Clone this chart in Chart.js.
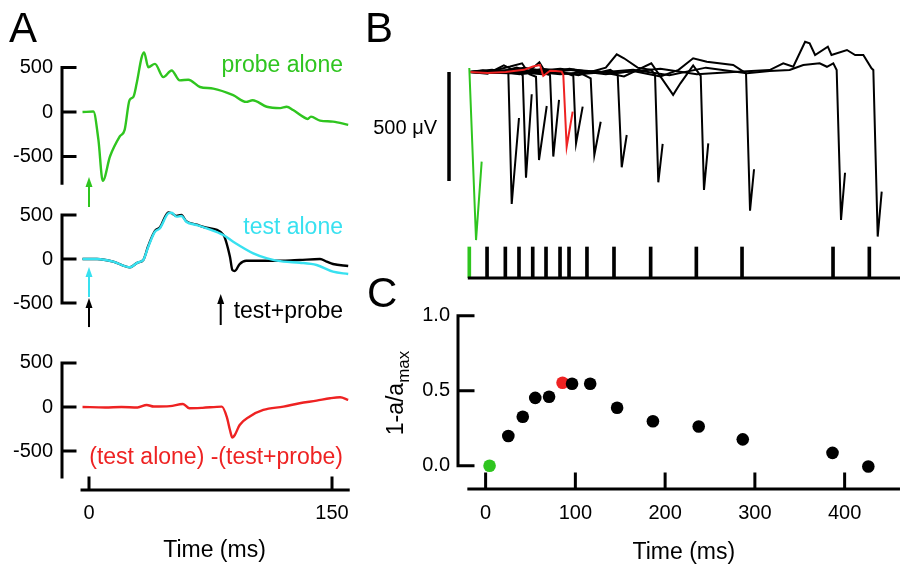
<!DOCTYPE html>
<html>
<head>
<meta charset="utf-8">
<script src="https://cdn.jsdelivr.net/npm/chart.js@4.4.0/dist/chart.umd.min.js"></script>
<style>
html, body { margin: 0; padding: 0; width: 900px; height: 568px; overflow: hidden; background: #fff; }
body { position: relative; font-family: 'Liberation Sans', Arial, sans-serif; color: #000; }
canvas { position: absolute; }
.lbl { position: absolute; line-height: 1; white-space: nowrap; }
.big { font-size: 42px; }
.note { font-size: 23px; }
</style>
</head>
<body>
<canvas id="panelA" width="367" height="528" style="left:0;top:40px"></canvas>
<canvas id="panelB" width="460" height="252" style="left:440px;top:30px"></canvas>
<canvas id="panelC" width="516" height="278" style="left:400px;top:290px"></canvas>

<div class="lbl big" style="left:9px;top:7px">A</div>
<div class="lbl big" style="left:365px;top:7px">B</div>
<div class="lbl big" style="left:367px;top:272px">C</div>
<div class="lbl note" style="right:557px;top:53px;color:#2fc51f">probe alone</div>
<div class="lbl note" style="right:557px;top:215px;color:#38e1f0">test alone</div>
<div class="lbl note" style="right:557px;top:299px">test+probe</div>
<div class="lbl note" style="right:557px;top:445px;color:#ee2222">(test alone) -(test+probe)</div>
<div class="lbl" style="right:463px;top:117px;font-size:20px">500 μV</div>
<div class="lbl note" style="left:335px;top:378px;width:120px;height:30px;line-height:30px;text-align:center;transform:rotate(-90deg)">1-a/a<sub style="font-size:17px">max</sub></div>

<script>
// ---- panel A: field responses (ms, µV) ----
const probeT = [-4, 2.7, 5.8, 8.5, 13, 19, 22, 25, 27.4, 29.4, 32.5, 34, 36.6, 40.7, 45.9, 51, 56, 61.3, 68.5, 76.7, 89, 97, 101, 109.7, 118, 122, 126, 132, 135, 137, 142.6, 150.6, 160];
const probeV = [0, 5, -311, -774, -497, -274, -200, 133, 170, 319, 614, 670, 503, 541, 392, 467, 356, 363, 281, 263, 189, 114, 133, 59, 44, 59, 22, -52, -78, -52, -96, -108, -144];

const testT = [-4, 5, 15, 25.3, 30, 33.5, 36.6, 40.7, 43.8, 49, 51, 54, 57, 60, 66.5, 72.6, 82.9, 89, 101.4, 110, 120, 130, 140.5, 150.6, 160];
const testV = [0, 0, -30, -94, -40, -11, 140, 310, 349, 519, 526, 481, 489, 424, 386, 349, 273, 197, 65, 8, -30, -42, -68, -144, -170];

const pairT = [-4, 5, 15, 25.3, 30, 33.5, 36.6, 40.7, 43.8, 49, 51, 54, 57, 60, 66.5, 72.6, 82.9, 87, 88.5, 90, 93, 97, 110, 120, 130, 142.6, 146.7, 150.6, 160];
const pairV = [0, 0, -30, -94, -40, -11, 150, 320, 360, 530, 520, 490, 500, 430, 390, 355, 275, 26, -125, -136, -57, -19, -19, -19, -11, 0, -30, -57, -80];

const diffT = [-4, 10, 20, 30, 35.6, 40, 50, 58, 62, 70, 82, 85, 87, 88.5, 90, 93, 99, 107.6, 120, 130, 140.5, 148.8, 155, 160];
const diffV = [0, -5, 0, -5, 23, 5, 10, 34, -15, -10, 4, -110, -261, -348, -318, -205, -110, -34, 4, 42, 72, 99, 110, 80];

const aTicksX = [0, 150];
const aTicksY = [500, 0, -500];

// ---- panel B: single sweeps (ms from probe, µV) ----
const stimTimes = [0, 19.5, 39.6, 54.6, 69.7, 84.3, 99.7, 109.6, 129.3, 159, 199.3, 249.5, 299.7, 399.7, 439.6];

const sweepGreenT = [0, 7.4, 13.6];
const sweepGreenV = [18, -771, -411];
const sweepRedT = [0, 20, 40, 60, 70, 77.7, 81.3, 88.7, 95, 101.5, 103.3, 107, 113.6];
const sweepRedV = [0, -5, 0, 10, 25, 32, -18, 6, 5, 2, -14, -343, -182];

const sweepsT = [
  [0, 15, 30, 42.9, 46.6, 54.6],
  [0, 20, 38, 50, 58.7, 62.3, 68.6],
  [0, 25, 45, 58, 66, 73.3, 76.6, 85.1],
  [0, 30, 52, 66, 77, 85, 88.7, 92.3, 98.6],
  [0, 25, 55, 80, 100, 114.3, 117.3, 124.6],
  [0, 30, 60, 90, 115, 133.4, 137.4, 144.4],
  [0, 40, 80, 110, 140, 155, 163.1, 167.5, 173],
  [0, 40, 85, 120, 150, 162, 170, 185, 200, 204.1, 207.7, 212.5],
  [0, 50, 100, 140, 170, 200, 224, 232, 246, 254.3, 257.9, 262.6],
  [0, 50, 100, 150, 180, 210, 230, 246, 261, 290, 304.1, 308.5, 312.9],
  [0, 60, 120, 180, 220, 260, 305, 330, 352, 367, 385, 393, 400, 403.7, 408.5, 412.9],
  [0, 60, 110, 160, 210, 250, 290, 330, 345, 356, 369, 374, 380, 394, 398, 415, 424, 433, 442, 444, 448.8, 453.2]
];
const sweepsV = [
  [0, 8, -5, -5, -605, -211],
  [0, -8, 30, 5, -14, -485, -102],
  [0, 5, 25, 40, -10, -22, -404, -156],
  [0, -5, 20, 5, 45, -10, -14, -388, -128],
  [0, 10, -10, 15, 5, -18, -327, -159],
  [0, -5, 20, 0, 10, -29, -381, -228],
  [0, 5, -10, 15, -5, 10, -14, -437, -289],
  [0, -5, 10, -15, 20, 81, 63, 20, 10, -14, -506, -330],
  [0, 10, -10, 5, -20, 40, -105, -52, 30, -18, -541, -327],
  [0, -5, 15, -10, 5, -20, 10, 63, 47, 32, -6, -636, -446],
  [0, 5, -10, 10, -15, 20, -6, 5, 9, 32, 40, 24, 40, 9, -679, -462],
  [0, -8, 12, -5, 15, -10, 0, 9, 40, 24, 139, 132, 78, 116, 78, 101, 78, 78, 17, 9, -755, -549]
];
const scaleBarUV = 500;

// ---- panel C: 1 - a/amax vs interval ----
const cTimes = [4.4, 25.3, 41.4, 55.3, 70.7, 85.7, 96.3, 116.5, 146.5, 186.4, 237.4, 286.5, 386.5, 426.4];
const cValues = [0.0, 0.198, 0.327, 0.452, 0.46, 0.553, 0.546, 0.546, 0.387, 0.297, 0.262, 0.176, 0.086, -0.005];
const cTicksX = [0, 100, 200, 300, 400];
const cTicksY = [0, 0.5, 1.0];

const GREEN = '#2fc51f', CYAN = '#38e1f0', RED = '#ee2222', BLACK = '#000';

Chart.defaults.font.family = "'Liberation Sans', Arial, sans-serif";
Chart.defaults.color = '#000';

const zip = (t, v) => t.map((x, i) => ({x: x, y: v[i]}));
const setTicks = vals => s => { s.ticks = vals.map(v => ({value: v})); };

// axis lines with inward ticks, scale bars and arrows (config kept in a closure)
function inkPlugin(cfg) {
  return {
    id: 'ink',
    afterDatasetsDraw(chart) {
      const ctx = chart.ctx, area = chart.chartArea;
      ctx.save();
      (cfg.axes || []).forEach(a => {
        const s = chart.scales[a.scale];
        ctx.strokeStyle = BLACK;
        ctx.lineWidth = a.width || 3;
        ctx.lineCap = a.cap || 'square';
        ctx.beginPath();
        if (s.isHorizontal()) {
          const y = area.bottom;
          ctx.moveTo(s.getPixelForValue(a.from), y);
          ctx.lineTo(s.getPixelForValue(a.to), y);
          (a.ticks || []).forEach(v => {
            const x = s.getPixelForValue(v);
            ctx.moveTo(x, y); ctx.lineTo(x, y - a.len);
          });
        } else {
          const x = (typeof a.at === 'number') ? chart.scales.x.getPixelForValue(a.at) : area.left;
          ctx.moveTo(x, s.getPixelForValue(a.from));
          ctx.lineTo(x, s.getPixelForValue(a.to));
          (a.ticks || []).forEach(v => {
            const y = s.getPixelForValue(v);
            ctx.moveTo(x, y); ctx.lineTo(x + a.len, y);
          });
        }
        ctx.stroke();
      });
      (cfg.arrows || []).forEach(a => {
        const x = chart.scales.x.getPixelForValue(a.x);
        const s = chart.scales[a.scale];
        const y0 = s.getPixelForValue(a.from), y1 = s.getPixelForValue(a.to);
        ctx.strokeStyle = a.color; ctx.fillStyle = a.color;
        ctx.lineWidth = 2; ctx.lineCap = 'butt';
        ctx.beginPath(); ctx.moveTo(x, y0); ctx.lineTo(x, y1 + 8); ctx.stroke();
        ctx.beginPath();
        ctx.moveTo(x, y1); ctx.lineTo(x - 3.5, y1 + 10); ctx.lineTo(x + 3.5, y1 + 10);
        ctx.closePath(); ctx.fill();
      });
      ctx.restore();
    }
  };
}

function traceLine(label, t, v, color, axis) {
  return {
    label: label, data: zip(t, v), borderColor: color, borderWidth: 2.4,
    pointRadius: 0, fill: false, cubicInterpolationMode: 'monotone', yAxisID: axis
  };
}

function stackedY(min, max, weight) {
  return {
    type: 'linear', position: 'left', stack: 'traces', stackWeight: 1, weight: weight,
    min: min, max: max,
    grid: { display: false, drawTicks: false, tickLength: 0 },
    border: { display: false },
    afterBuildTicks: setTicks(aTicksY),
    ticks: { font: { size: 20 }, padding: 9 },
    afterFit: s => { s.width = 62; s.paddingTop = 0; s.paddingBottom = 0; }
  };
}

// ---------------- panel A ----------------
new Chart(document.getElementById('panelA'), {
  type: 'line',
  data: {
    datasets: [
      traceLine('probe alone', probeT, probeV, GREEN, 'yA1'),
      traceLine('test alone', testT, testV, CYAN, 'yA2'),
      traceLine('test+probe', pairT, pairV, BLACK, 'yA2'),
      traceLine('(test alone) -(test+probe)', diffT, diffV, RED, 'yA3')
    ]
  },
  options: {
    responsive: false, animation: false,
    layout: { padding: 0 },
    plugins: { legend: { display: false }, tooltip: { enabled: false } },
    scales: {
      x: {
        type: 'linear', min: -16.667, max: 171.6,
        grid: { display: false, drawTicks: false, tickLength: 0 },
        border: { display: false },
        afterBuildTicks: setTicks(aTicksX),
        ticks: { font: { size: 20 }, padding: 11, maxRotation: 0 },
        title: { display: true, text: 'Time (ms)', font: { size: 23 }, padding: { top: 0, bottom: 4 } },
        afterFit: s => { s.height = 78; s.paddingLeft = 0; s.paddingRight = 0; }
      },
      yA1: stackedY(-876, 809, 3),
      yA2: stackedY(-920, 784, 2),
      yA3: stackedY(-943, 761, 1)
    }
  },
  plugins: [inkPlugin({
    axes: [
      { scale: 'yA1', from: 500, to: -800, ticks: aTicksY, len: 13 },
      { scale: 'yA2', from: 500, to: -500, ticks: aTicksY, len: 13 },
      { scale: 'yA3', from: 500, to: -795, ticks: aTicksY, len: 13 },
      { scale: 'x', from: -4.3, to: 160, ticks: aTicksX, len: 12 }
    ],
    arrows: [
      { x: 0, scale: 'yA1', from: -1067, to: -730, color: GREEN },
      { x: 0, scale: 'yA2', from: -432, to: -91, color: CYAN },
      { x: 0, scale: 'yA2', from: -773, to: -443, color: BLACK },
      { x: 81.3, scale: 'yA2', from: -750, to: -398, color: BLACK }
    ]
  })]
});

// ---------------- panel B ----------------
function sweepLine(t, v, color) {
  return { data: zip(t, v), borderColor: color, borderWidth: 2, pointRadius: 0, tension: 0, fill: false, yAxisID: 'y' };
}
const bSets = [sweepLine(sweepGreenT, sweepGreenV, GREEN), sweepLine(sweepRedT, sweepRedV, RED)];
sweepsT.forEach((t, i) => bSets.push(sweepLine(t, sweepsV[i], BLACK)));
bSets.push({
  type: 'bar', data: stimTimes.map(t => ({x: t, y: 1})), yAxisID: 'yStim',
  backgroundColor: stimTimes.map((t, i) => i === 0 ? GREEN : BLACK),
  barThickness: 3, borderWidth: 0
});

new Chart(document.getElementById('panelB'), {
  type: 'line',
  data: { datasets: bSets },
  options: {
    responsive: false, animation: false,
    layout: { padding: { bottom: 4 } },
    plugins: { legend: { display: false }, tooltip: { enabled: false } },
    scales: {
      x: { type: 'linear', min: -32.2, max: 473.3, offset: false, display: false },
      y: { type: 'linear', min: -945, max: 192.7, display: false },
      yStim: { type: 'linear', min: 0, max: 8, display: false }
    }
  },
  plugins: [inkPlugin({
    axes: [
      { scale: 'x', from: 0, to: 473.3, ticks: [], len: 0 },
      { scale: 'y', at: -22.3, from: 0, to: -scaleBarUV, ticks: [], len: 0, width: 3.5, cap: 'butt' }
    ]
  })]
});

// ---------------- panel C ----------------
new Chart(document.getElementById('panelC'), {
  type: 'scatter',
  data: {
    datasets: [{
      data: zip(cTimes, cValues),
      pointRadius: 6.3, pointHoverRadius: 6.3, borderWidth: 0,
      pointBackgroundColor: cTimes.map((t, i) => i === 0 ? GREEN : (i === 5 ? RED : BLACK))
    }]
  },
  options: {
    responsive: false, animation: false,
    layout: { padding: 0 },
    plugins: { legend: { display: false }, tooltip: { enabled: false } },
    scales: {
      x: {
        type: 'linear', min: -30.77, max: 472.5,
        grid: { display: false, drawTicks: false, tickLength: 0 },
        border: { display: false },
        afterBuildTicks: setTicks(cTicksX),
        ticks: { font: { size: 20 }, padding: 12, maxRotation: 0 },
        title: { display: true, text: 'Time (ms)', font: { size: 23 }, padding: { top: 0, bottom: 2 } },
        afterFit: s => { s.height = 79; s.paddingLeft = 0; s.paddingRight = 0; }
      },
      y: {
        type: 'linear', min: -0.1548, max: 1.129,
        grid: { display: false, drawTicks: false, tickLength: 0 },
        border: { display: false },
        afterBuildTicks: setTicks(cTicksY),
        ticks: { font: { size: 20 }, padding: 8, callback: v => v.toFixed(1) },
        afterFit: s => { s.width = 58; s.paddingTop = 0; s.paddingBottom = 0; }
      }
    }
  },
  plugins: [inkPlugin({
    axes: [
      { scale: 'y', from: 1.0, to: 0, ticks: cTicksY, len: 15 },
      { scale: 'x', from: -18.7, to: 460, ticks: cTicksX, len: 15 }
    ]
  })]
});
</script>
</body>
</html>
